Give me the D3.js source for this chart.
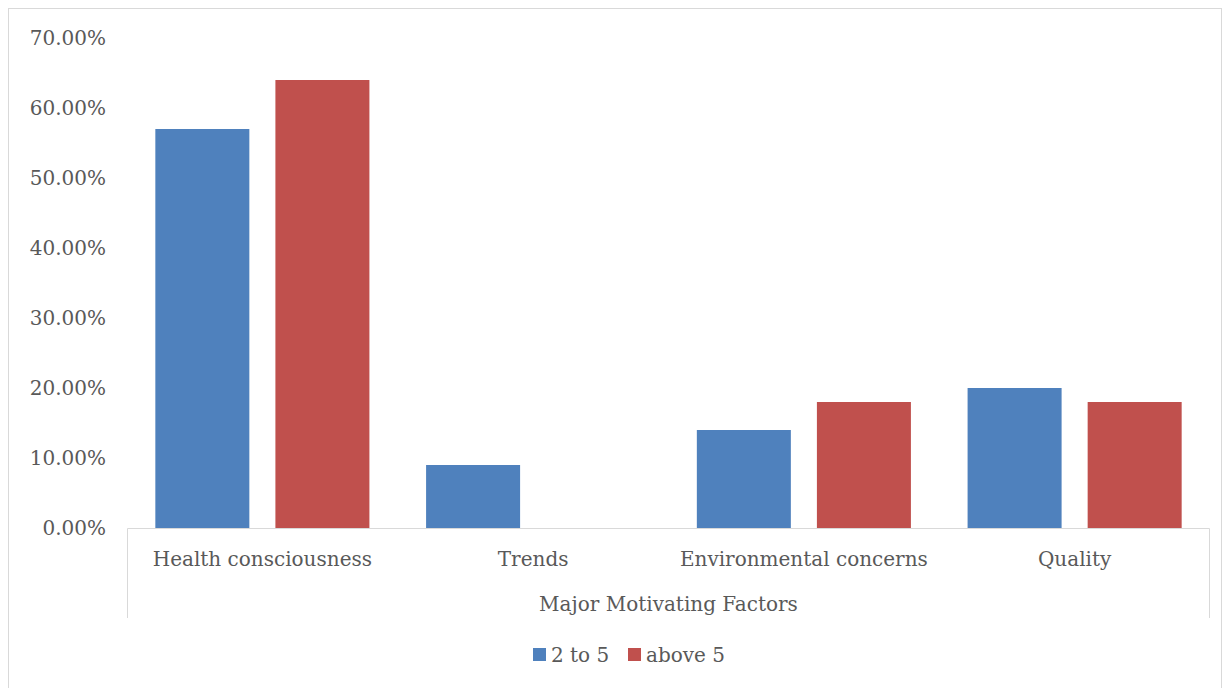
<!DOCTYPE html>
<html>
<head>
<meta charset="utf-8">
<script src="https://cdn.jsdelivr.net/npm/d3@7"></script>
<style>
  body { margin: 0; background: #fff; }
  svg text { font-family: "DejaVu Serif", serif; fill: #595959; }
</style>
</head>
<body>
<div id="chart"></div>
<script>
const categories = ['Health consciousness', 'Trends', 'Environmental concerns', 'Quality'];
const seriesNames = ['2 to 5', 'above 5'];
const series2to5 = [0.57, 0.09, 0.14, 0.20];
const seriesAbove5 = [0.64, 0, 0.18, 0.18];
const yTicks = [0, 0.1, 0.2, 0.3, 0.4, 0.5, 0.6, 0.7];
const axisTitle = 'Major Motivating Factors';

const colors = ['#4F81BD', '#C0504D'];
const width = 1225, height = 688;
const margin = { left: 127, right: 15, top: 38, bottom: 160 };

const rows = categories.map((c, i) => ({ cat: c, values: [series2to5[i], seriesAbove5[i]] }));

const svg = d3.select('#chart').append('svg')
  .attr('width', width)
  .attr('height', height);

// chart border
svg.append('rect')
  .attr('x', 8.5).attr('y', 8.5)
  .attr('width', width - 12).attr('height', height + 20)
  .attr('fill', 'none').attr('stroke', '#d9d9d9');

const plotW = width - margin.left - margin.right;
const yBase = height - margin.bottom;

const x0 = d3.scaleBand().domain(categories).range([margin.left, margin.left + plotW]);
const x1 = d3.scaleBand().domain([0, 1]).range([0, x0.bandwidth()])
  .paddingInner(0.217).paddingOuter(0.236);
const y = d3.scaleLinear().domain([0, 0.7]).range([yBase, margin.top]);

// y axis labels
svg.append('g').selectAll('text')
  .data(yTicks)
  .enter().append('text')
  .attr('x', 106)
  .attr('y', d => y(d))
  .attr('dy', '0.35em')
  .attr('text-anchor', 'end')
  .attr('font-size', 20)
  .text(d => d3.format('.2%')(d));

// bars
const groups = svg.append('g').selectAll('g')
  .data(rows)
  .enter().append('g')
  .attr('transform', d => `translate(${x0(d.cat)},0)`);

groups.selectAll('rect')
  .data(d => d.values.map((v, i) => ({ v, i })))
  .enter().append('rect')
  .attr('x', d => x1(d.i))
  .attr('y', d => y(d.v))
  .attr('width', x1.bandwidth())
  .attr('height', d => yBase - y(d.v))
  .attr('fill', d => colors[d.i]);

// category axis
const axisG = svg.append('g').attr('stroke', '#d9d9d9').attr('fill', 'none');
const xl = x0.range()[0] + 0.5, xr = x0.range()[1] - 0.5;
axisG.append('path')
  .attr('d', `M${xl},618 V${yBase + 0.5} H${xr} V618`);

svg.append('g').selectAll('text')
  .data(categories)
  .enter().append('text')
  .attr('x', d => x0(d) + x0.bandwidth() / 2)
  .attr('y', 566)
  .attr('text-anchor', 'middle')
  .attr('font-size', 20)
  .text(d => d);

svg.append('text')
  .attr('x', (xl + xr) / 2)
  .attr('y', 611)
  .attr('text-anchor', 'middle')
  .attr('font-size', 20)
  .text(axisTitle);

// legend
const legend = svg.append('g');
const legendX = [533, 628];
seriesNames.forEach((name, i) => {
  legend.append('rect')
    .attr('x', legendX[i]).attr('y', 648)
    .attr('width', 13).attr('height', 13)
    .attr('fill', colors[i]);
  legend.append('text')
    .attr('x', legendX[i] + 18).attr('y', 662)
    .attr('font-size', 20)
    .text(name);
});
</script>
</body>
</html>
